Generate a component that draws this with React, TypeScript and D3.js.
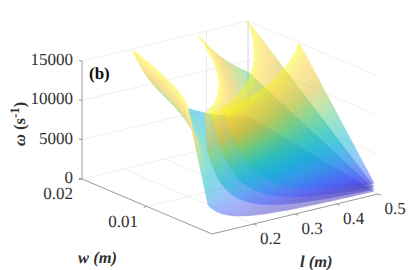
import React from 'react'
import * as d3 from 'd3'

// l (m), column positions of the tables below
const lengths = [0.1, 0.125, 0.15, 0.175, 0.2, 0.25, 0.3, 0.35, 0.4, 0.45, 0.5]
const wMin = 0.0006
const wMax = 0.02
const zMax = 15000

// omega along the narrow edge (wMin) of each sheet
const narrow1 = [3457, 2212, 1536, 1129, 864, 553, 384, 282, 216, 171, 138]
const narrow2 = [10150, 6496, 4511, 3314, 2538, 1624, 1128, 829, 634, 501, 406]
const narrow3 = [17850, 11424, 7933, 5828, 4463, 2856, 1983, 1457, 1116, 881, 714]
const narrow4 = [29070, 18605, 12920, 9492, 7268, 4651, 3230, 2373, 1817, 1436, 1163]

// omega along the wide edge (wMax), the part above zMax is cut off by the axis limit
const wide1 = [72600, 46460, 32270, 23710, 18150, 11620, 8067, 5926, 4537, 3585, 2904]
const wide2 = [213150, 136400, 94730, 69590, 53290, 34100, 23680, 17400, 13320, 10520, 8526]
const wide3 = [374850, 239900, 166600, 122400, 93700, 59980, 41650, 30600, 23430, 18510, 14990]
const wide4 = [610500, 390700, 271300, 199300, 152600, 97680, 67830, 49840, 38160, 30150, 24420]

const zTicks = [0, 5000, 10000, 15000]
const lTicks = [0.2, 0.3, 0.4, 0.5]
const wTicks = [0.01, 0.02]

// parula stops
const parula = ['#3e26a8', '#475bf9', '#2796eb', '#08b5d0', '#31c69f', '#81cc59', '#dcbd29', '#fccf30', '#f9fb15']

const color = d3.scaleLinear<string>()
    .domain(d3.quantize(d3.interpolateNumber(0, zMax), parula.length))
    .range(parula)
    .clamp(true)

// oblique projection of the matlab view
const lx = d3.scaleLinear().domain([0.1, 0.5]).range([0, 166])
const ly = d3.scaleLinear().domain([0.1, 0.5]).range([0, -40])
const wx = d3.scaleLinear().domain([0, wMax]).range([212, 82])
const wy = d3.scaleLinear().domain([0, wMax]).range([234, 179])
const zy = d3.scaleLinear().domain([0, zMax]).range([0, 118])

const project = (l: number, w: number, z: number): [number, number] =>
    [lx(l) + wx(w), ly(l) + wy(w) - zy(z)]

const lMin = lengths[0], lMax = lengths[lengths.length - 1]
const lSteps = d3.quantize(d3.interpolateNumber(Math.log(lMin), Math.log(lMax)), 90).map(Math.exp)
const vSteps = d3.range(0, 1.0001, 1 / 46)

const curve = (values: number[]) => {
    const s = d3.scaleLog().domain(lengths).range(values.map(Math.log))
    return (l: number) => Math.exp(s(l))
}

function buildSheet(narrow: number[], wide: number[]) {
    const lo = curve(narrow), hi = curve(wide)
    const cols = lSteps.filter(l => lo(l) < zMax).map(l => {
        const a = lo(l), b = hi(l)
        const toW = d3.scaleLinear().domain([a, b]).range([wMin, wMax])
        const wTop = b > zMax ? toW(zMax) : wMax
        return vSteps.map(v => {
            const w = wMin + v * (wTop - wMin)
            return { l, w, z: toW.invert(w) }
        })
    })
    const quads: { d: string, fill: string }[] = []
    const line = d3.line()
    // far to near, so nearer cells paint over
    for (let i = cols.length - 2; i >= 0; i--) {
        for (let j = vSteps.length - 2; j >= 0; j--) {
            const c = [cols[i][j], cols[i + 1][j], cols[i + 1][j + 1], cols[i][j + 1]]
            quads.push({
                d: line(c.map(p => project(p.l, p.w, p.z))) + 'Z',
                fill: color(d3.mean(c, p => p.z) as number)
            })
        }
    }
    return quads
}

// lowest sheet first, the camera looks from above
const sheets = [
    buildSheet(narrow1, wide1),
    buildSheet(narrow2, wide2),
    buildSheet(narrow3, wide3),
    buildSheet(narrow4, wide4)
]

const Seg = ({ a, b, stroke, w = 1 }: any) => (
    <line x1={a[0]} y1={a[1]} x2={b[0]} y2={b[1]} stroke={stroke} strokeWidth={w} />
)

const serif = "'Liberation Serif', 'Times New Roman', Times, serif"

export default function App() {
    const grid = '#f0f0f0'
    const axis = '#9a9a9a'
    const tickFont = { style: { fontFamily: serif, fontSize: 17 }, fill: '#303030', textRendering: 'geometricPrecision' }
    const labelFont = { style: { fontFamily: serif, fontSize: 16.5, fontWeight: 700, fontStyle: 'italic' }, fill: '#303030', textRendering: 'geometricPrecision' }

    return (
        <svg width={415} height={270} style={{ position: 'absolute', left: 0, top: 0 }}>
            {/* back walls and floor */}
            {zTicks.map(z => (
                <g key={z}>
                    <Seg a={project(lMin, wMax, z)} b={project(lMax, wMax, z)} stroke={grid} />
                    <Seg a={project(lMax, wMax, z)} b={project(lMax, 0, z)} stroke={grid} />
                </g>
            ))}
            {lTicks.slice(0, 3).map(l => (
                <Seg key={l} a={project(l, 0, 0)} b={project(l, wMax, 0)} stroke={grid} />
            ))}
            <Seg a={project(lMin, 0.01, 0)} b={project(lMax, 0.01, 0)} stroke={grid} />
            <Seg a={project(0.4, wMax, 0)} b={project(0.4, wMax, zMax)} stroke="#ebebeb" />
            <Seg a={project(lMax, wMax, 0)} b={project(lMax, wMax, zMax)} stroke="#dedede" w={1.4} />

            {/* axes */}
            <Seg a={project(lMin, wMax, 0)} b={project(lMin, wMax, zMax)} stroke={axis} />
            <Seg a={project(lMin, wMax, 0)} b={project(lMin, 0, 0)} stroke={axis} />
            <Seg a={project(lMin, 0, 0)} b={project(lMax, 0, 0)} stroke={axis} />
            {zTicks.map(z => {
                const [x, y] = project(lMin, wMax, z)
                return <line key={z} x1={x - 3} y1={y - 0.5} x2={x} y2={y} stroke={axis} />
            })}
            {lTicks.map(l => (
                <Seg key={l} a={project(l, 0, 0)} b={project(l, -0.0005, 0)} stroke={axis} />
            ))}
            {wTicks.map(w => (
                <Seg key={w} a={project(lMin, w, 0)} b={project(lMin - 0.008, w, 0)} stroke={axis} />
            ))}

            {sheets.map((quads, i) => (
                <g key={i} opacity={0.5}>
                    {quads.map((q, j) => (
                        <path key={j} d={q.d} fill={q.fill} stroke={q.fill} strokeWidth={0.5} />
                    ))}
                </g>
            ))}

            {/* tick labels */}
            {zTicks.map(z => (
                <text key={z} {...tickFont} x={73} y={project(lMin, wMax, z)[1] + 4} textAnchor="end">{z}</text>
            ))}
            {wTicks.map(w => {
                const [x, y] = project(lMin, w, 0)
                return <text key={w} {...tickFont} x={x - 24} y={y + 20} textAnchor="middle">{d3.format('.2f')(w)}</text>
            })}
            {lTicks.map(l => {
                const [x, y] = project(l, 0, 0)
                return <text key={l} {...tickFont} x={x + 17} y={y + 20} textAnchor="middle">{d3.format('.1f')(l)}</text>
            })}

            <text x={89} y={79} fill="#111" textRendering="geometricPrecision" style={{ fontFamily: serif, fontSize: 17, fontWeight: 700 }}>(b)</text>

            {/* axis titles */}
            <text {...labelFont} x={78} y={263}>w (m)</text>
            <text {...labelFont} x={300} y={267}>l (m)</text>
            <text {...labelFont} transform="translate(25,146) rotate(-90)">ω<tspan style={{ fontStyle: 'normal' }}> (s</tspan><tspan style={{ fontStyle: 'normal', fontSize: 13 }} dy={-6}>-1</tspan><tspan style={{ fontStyle: 'normal' }} dy={6}>)</tspan></text>
        </svg>
    )
}
